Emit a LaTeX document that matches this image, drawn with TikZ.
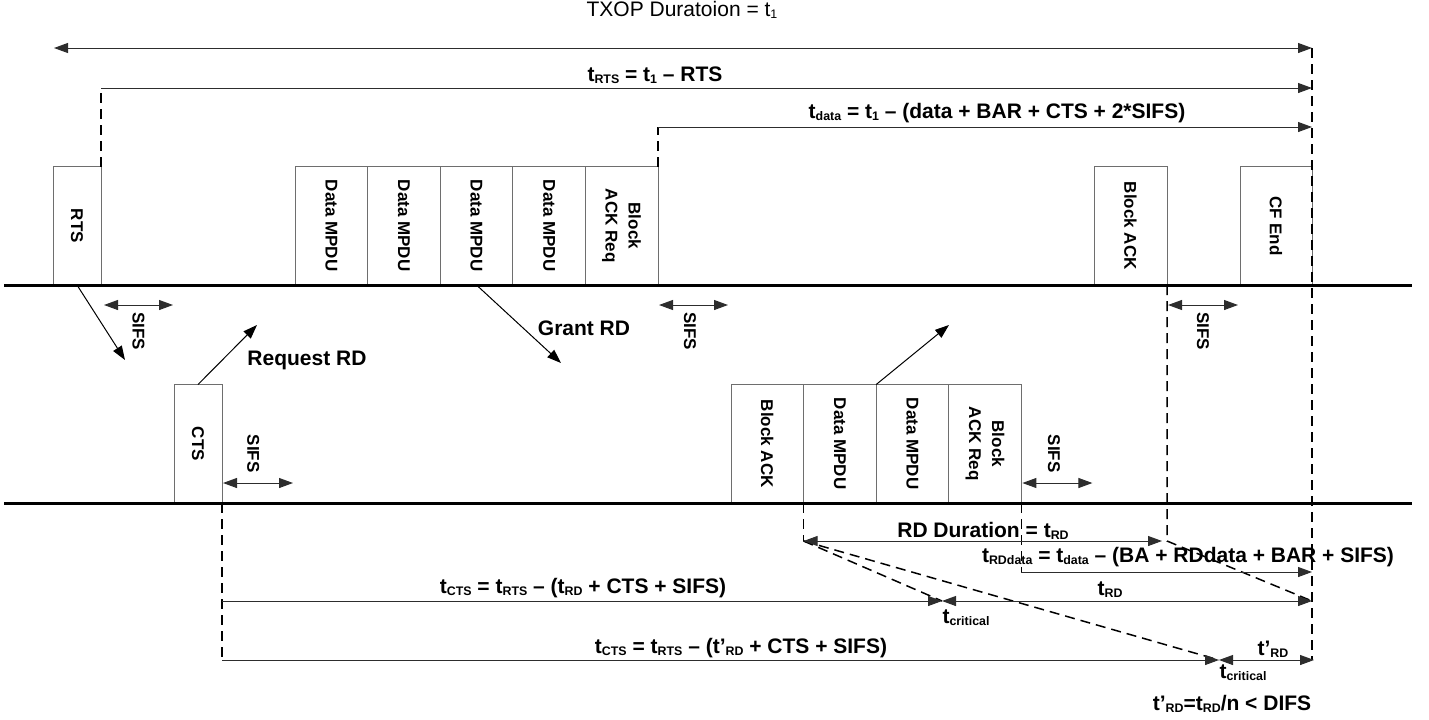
\documentclass[tikz,border=0pt]{standalone}
\usepackage{fontspec}
\setmainfont{Liberation Sans}
\usepackage{graphicx}
\usepackage{tikz}
\usetikzlibrary{positioning, calc, arrows.meta}
\definecolor{frame}{RGB}{110,110,110}
\definecolor{ink}{RGB}{45,45,45}
\newcommand{\tsub}[1]{\raisebox{-1pt}{\fontsize{6.2}{7}\selectfont #1}}
\newcommand{\vtxt}[1]{\rotatebox{-90}{#1}}

\begin{document}
\begin{tikzpicture}[x=0.5pt, y=-0.5pt, >={Triangle[length=7pt,width=5pt]},
    pkt/.style={draw=frame, line width=0.5pt, inner sep=0pt, outer sep=0pt, minimum height=59.25pt, minimum width=36.3pt, font=\fontsize{8.5}{11.5}\selectfont\bfseries},
    lbl/.style={inner sep=0pt, anchor=base, font=\fontsize{10.5}{12}\selectfont\bfseries},
    sifs/.style={inner sep=0pt, font=\fontsize{8.5}{10}\selectfont\bfseries},
    timeline/.style={line width=1.5pt},
    dim/.style={<->, line width=0.5pt, draw=ink},
    dimr/.style={->, line width=0.5pt, draw=ink},
    guide/.style={dash pattern=on 5pt off 3pt, line width=0.75pt},
    sig/.style={->, line width=0.5pt}]
    \useasboundingbox (0,0) rectangle (1429,719);

    % time lines
    \coordinate (upw) at (4,285);
    \coordinate (upe) at (1412,285);
    \coordinate (low) at (4,503);
    \coordinate (loe) at (1412,503);

    % upper frames
    \node[pkt, minimum width=24pt, anchor=south west] (rts) at (53,285) {\vtxt{RTS}};
    \node[pkt, anchor=south west] (d1) at (295,285) {\vtxt{Data MPDU}};
    \node[pkt, right=0pt of d1] (d2) {\vtxt{Data MPDU}};
    \node[pkt, right=0pt of d2] (d3) {\vtxt{Data MPDU}};
    \node[pkt, right=0pt of d3] (d4) {\vtxt{Data MPDU}};
    \node[pkt, right=0pt of d4] (bar) {\vtxt{\begin{tabular}{@{}c@{}}Block\\ACK Req\end{tabular}}};
    \node[pkt, minimum width=36.5pt, anchor=south west] (back) at (1094,285) {\vtxt{Block ACK}};
    \node[pkt, minimum width=36pt, anchor=south west] (cfend) at (1240,285) {\vtxt{CF End}};

    % lower frames
    \node[pkt, minimum width=24pt, anchor=south west] (cts) at (174,503) {\vtxt{CTS}};
    \node[pkt, anchor=south west] (lback) at (731,503) {\vtxt{Block ACK}};
    \node[pkt, right=0pt of lback] (ld1) {\vtxt{Data MPDU}};
    \node[pkt, right=0pt of ld1] (ld2) {\vtxt{Data MPDU}};
    \node[pkt, right=0pt of ld2] (lbar) {\vtxt{\begin{tabular}{@{}c@{}}Block\\ACK Req\end{tabular}}};

    \draw[timeline] (upw) -- (upe);
    \draw[timeline] (low) -- (loe);

    % durations at the top
    \coordinate (txl) at (54,48);
    \coordinate (endtop) at (1312,48);
    \coordinate (rtsc) at (rts.north east |- 0,88);
    \coordinate (datac) at (bar.north east |- 0,127);
    \node[lbl, font=\fontsize{10.5}{12}\selectfont] (txop) at (682,16) {TXOP Duratoion = t\tsub{1}};
    \node[lbl] (trts) at (655,81) {t\tsub{RTS} = t\tsub{1} – RTS};
    \node[lbl] (tdata) at (997,118) {t\tsub{data} = t\tsub{1} – (data + BAR + CTS + 2*SIFS)};
    \draw[dim] (txl) -- (endtop);
    \draw[guide] (rts.north east) -- (rtsc);
    \draw[dimr] (rtsc) -- (rtsc -| endtop);
    \draw[guide] (bar.north east) -- (datac);
    \draw[dimr] (datac) -- (datac -| endtop);

    % SIFS gaps
    \coordinate (s1a) at ([xshift=1.5pt, yshift=-10pt]rts.south east);
    \coordinate (s1b) at ([xshift=34.5pt]s1a);
    \coordinate (s2a) at ([xshift=0.5pt, yshift=-10pt]bar.south east);
    \coordinate (s2b) at ([xshift=34.5pt]s2a);
    \coordinate (s3a) at ([xshift=0.5pt, yshift=-10pt]back.south east);
    \coordinate (s3b) at ([xshift=35pt]s3a);
    \coordinate (s4a) at ([xshift=0.5pt, yshift=10pt]cts.south east);
    \coordinate (s4b) at ([xshift=35pt]s4a);
    \coordinate (s5a) at ([xshift=0.5pt, yshift=10pt]lbar.south east);
    \coordinate (s5b) at ([xshift=35pt]s5a);
    \draw[dim] (s1a) -- node[sifs, below=3.5pt] {\vtxt{SIFS}} (s1b);
    \draw[dim] (s2a) -- node[sifs, below=3.5pt, pos=0.45] {\vtxt{SIFS}} (s2b);
    \draw[dim] (s3a) -- node[sifs, below=3.5pt] {\vtxt{SIFS}} (s3b);
    \draw[dim] (s4a) -- node[sifs, above=5pt, pos=0.43] {\vtxt{SIFS}} (s4b);
    \draw[dim] (s5a) -- node[sifs, above=5pt, pos=0.45] {\vtxt{SIFS}} (s5b);

    % signalling
    \coordinate (rtsar) at (125,360);
    \coordinate (grantar) at (561,363);
    \coordinate (reqar) at (257,325);
    \coordinate (rdar) at (949,325);
    \draw[sig] (rts.south) -- (rtsar);
    \draw[sig] (d3.south) -- (grantar);
    \draw[sig] (cts.north) -- (reqar);
    \draw[sig] (ld1.north east) -- (rdar);
    \node[lbl] (grant) at (584,335) {Grant RD};
    \node[lbl] (req) at (307,365) {Request RD};

    % durations at the bottom
    \coordinate (c1l) at (cts.south east |- 0,601);
    \coordinate (c2l) at (cts.south east |- 0,660);
    \coordinate (tc1) at (942,601);
    \coordinate (tc2) at (1219,660);
    \coordinate (rdl) at (ld1.south west |- 0,541);
    \coordinate (rdr) at (1162,541);
    \coordinate (bad) at (back.south east |- 0,541);
    \coordinate (rdd) at (lbar.south east |- 0,572);
    \coordinate (endbot) at (endtop |- tc2);

    \draw[guide] (endtop) -- (endbot);
    \draw[guide] (cts.south east) -- (c2l);
    \draw[guide] (ld1.south west) -- (rdl);
    \draw[guide] (back.south east) -- (bad) -- (tc1 -| endtop);
    \draw[guide] (lbar.south east) -- (rdd);
    \draw[guide] (rdl) -- (tc1);
    \draw[guide] (rdl) -- (tc2);

    \draw[dim] (rdl) -- (rdr);
    \draw[dimr] (rdd) -- (rdd -| endtop);
    \draw[dimr] (c1l) -- (tc1);
    \draw[dim] (tc1) -- (tc1 -| endtop);
    \draw[dimr] (c2l) -- (tc2);
    \draw[dim] (tc2) -- ([xshift=1pt]tc2 -| endtop);

    \node[lbl] (rddur) at (983,537) {RD Duration = t\tsub{RD}};
    \node[lbl] (trdd) at (1188,562) {t\tsub{RDdata} = t\tsub{data} – (BA + RDdata + BAR + SIFS)};
    \node[lbl] (tcts1) at (583,593) {t\tsub{CTS} = t\tsub{RTS} – (t\tsub{RD} + CTS + SIFS)};
    \node[lbl] (trd) at (1110,595) {t\tsub{RD}};
    \node[lbl] (tcrit1) at (966,623) {t\tsub{critical}};
    \node[lbl] (tcts2) at (741,653) {t\tsub{CTS} = t\tsub{RTS} – (t’\tsub{RD} + CTS + SIFS)};
    \node[lbl] (tprd) at (1273,655) {t’\tsub{RD}};
    \node[lbl] (tcrit2) at (1243,678) {t\tsub{critical}};
    \node[lbl] (difs) at (1232,710) {t’\tsub{RD}=t\tsub{RD}/n < DIFS};
\end{tikzpicture}
\end{document}
